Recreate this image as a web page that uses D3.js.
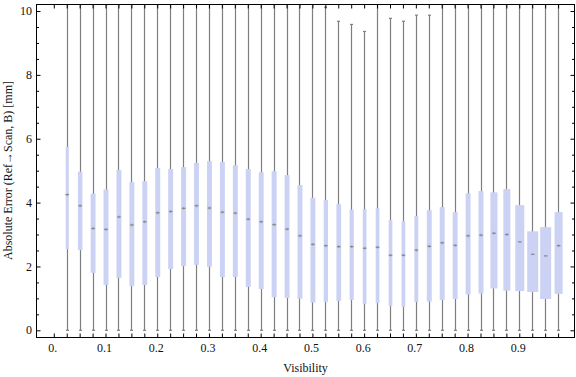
<!DOCTYPE html>
<html>
<head>
<meta charset="utf-8">
<script src="https://cdn.jsdelivr.net/npm/d3@7"></script>
<style>
  body { margin: 0; background: #fff; }
  text { font-family: "Liberation Serif", "Times New Roman", serif; fill: #111; }
</style>
</head>
<body>
<div id="chart"></div>
<script>
// visibility bins (box centres)
var visibility = [0.025, 0.05, 0.075, 0.1, 0.125, 0.15, 0.175, 0.2, 0.225, 0.25,
    0.275, 0.3, 0.325, 0.35, 0.375, 0.4, 0.425, 0.45, 0.475, 0.5,
    0.525, 0.55, 0.575, 0.6, 0.625, 0.65, 0.675, 0.7, 0.725, 0.75,
    0.775, 0.8, 0.825, 0.85, 0.875, 0.9, 0.925, 0.95, 0.975];
var minErr = [0, 0, 0, 0, 0, 0, 0, 0, 0, 0,
    0, 0, 0, 0, 0, 0, 0, 0, 0, 0,
    0, 0, 0, 0, 0, 0, 0, 0, 0, 0,
    0, 0, 0, 0, 0, 0, 0, 0, 0];
var q1 = [2.54, 2.51, 1.80, 1.42, 1.64, 1.39, 1.42, 1.67, 1.92, 2.01,
    2.05, 1.99, 1.67, 1.67, 1.36, 1.29, 1.04, 1.01, 0.99, 0.87,
    0.89, 0.92, 0.95, 0.82, 0.85, 0.76, 0.73, 0.89, 0.90, 0.95,
    0.98, 1.12, 1.15, 1.31, 1.24, 1.23, 1.20, 0.98, 1.14];
var median = [4.25, 3.90, 3.19, 3.16, 3.55, 3.30, 3.40, 3.68, 3.72, 3.82,
    3.90, 3.83, 3.70, 3.67, 3.48, 3.40, 3.31, 3.17, 2.96, 2.69,
    2.65, 2.62, 2.62, 2.57, 2.60, 2.35, 2.35, 2.51, 2.63, 2.74,
    2.66, 2.96, 2.98, 3.04, 3.00, 2.77, 2.38, 2.33, 2.65];
var q3 = [5.74, 4.97, 4.28, 4.41, 5.02, 4.64, 4.67, 5.08, 5.05, 5.11,
    5.24, 5.30, 5.27, 5.17, 5.05, 4.95, 4.98, 4.86, 4.55, 4.15,
    4.08, 3.95, 3.78, 3.79, 3.82, 3.45, 3.42, 3.58, 3.76, 3.86,
    3.70, 4.29, 4.36, 4.32, 4.42, 3.92, 3.10, 3.23, 3.70];
// whisker tops; 11 = runs off the top of the plot
var maxErr = [11, 11, 11, 11, 11, 11, 11, 11, 11, 11,
    11, 11, 11, 11, 11, 11, 11, 11, 11, 11,
    10.12, 9.68, 9.58, 9.36, 11, 9.77, 9.68, 9.87, 9.87, 11,
    11, 11, 11, 11, 11, 11, 11, 11, 11];
// relative box weight (box width)
var weight = [0.27, 0.41, 0.45, 0.45, 0.45, 0.45, 0.45, 0.45, 0.45, 0.45,
    0.45, 0.45, 0.45, 0.45, 0.45, 0.45, 0.45, 0.45, 0.45, 0.45,
    0.39, 0.43, 0.38, 0.34, 0.34, 0.34, 0.34, 0.36, 0.45, 0.45,
    0.45, 0.45, 0.45, 0.64, 0.64, 0.82, 1.0, 1.0, 0.73];

var xTickValues = [0, 0.1, 0.2, 0.3, 0.4, 0.5, 0.6, 0.7, 0.8, 0.9];
var xTickLabels = ["0.", "0.1", "0.2", "0.3", "0.4", "0.5", "0.6", "0.7", "0.8", "0.9"];
var yTickValues = [0, 2, 4, 6, 8, 10];

window.onload = function () {
    drawChart();
}

function drawChart() {
    var width = 576, height = 377;
    var left = 36, right = 575, top = 4, bottom = 337;

    var svg = d3.select("#chart").append("svg")
        .attr("width", width)
        .attr("height", height);

    var x = d3.scaleLinear().domain([-0.0344, 1.0077]).range([left, right]);
    var y = d3.scaleLinear().domain([-0.21, 10.22]).range([bottom, top]);
    var w = d3.scaleLinear().domain([0, 1]).range([0, 11]);

    var data = visibility.map(function (v, i) {
        return { v: v, lo: minErr[i], q1: q1[i], med: median[i], q3: q3[i], hi: maxErr[i], wt: weight[i] };
    });

    svg.append("clipPath").attr("id", "plotclip")
        .append("rect")
        .attr("x", left).attr("y", top)
        .attr("width", right - left).attr("height", bottom - top);

    var plot = svg.append("g").attr("clip-path", "url(#plotclip)");

    // whiskers
    plot.selectAll("line.whisker")
        .data(data)
        .enter().append("line")
        .attr("class", "whisker")
        .attr("x1", function (d) { return Math.round(x(d.v)) + 0.5; })
        .attr("x2", function (d) { return Math.round(x(d.v)) + 0.5; })
        .attr("y1", function (d) { return y(d.lo); })
        .attr("y2", function (d) { return y(d.hi); })
        .attr("stroke", "#7f7f7f")
        .attr("stroke-width", 1.2);

    // caps
    plot.selectAll("line.capLo")
        .data(data)
        .enter().append("line")
        .attr("x1", function (d) { return Math.round(x(d.v)) - 1; })
        .attr("x2", function (d) { return Math.round(x(d.v)) + 2; })
        .attr("y1", function (d) { return y(d.lo); })
        .attr("y2", function (d) { return y(d.lo); })
        .attr("stroke", "#7f7f7f")
        .attr("stroke-width", 1.2);

    plot.selectAll("line.capHi")
        .data(data.filter(function (d) { return d.hi < 10.22; }))
        .enter().append("line")
        .attr("x1", function (d) { return Math.round(x(d.v)) - 1; })
        .attr("x2", function (d) { return Math.round(x(d.v)) + 2; })
        .attr("y1", function (d) { return y(d.hi); })
        .attr("y2", function (d) { return y(d.hi); })
        .attr("stroke", "#7f7f7f")
        .attr("stroke-width", 1.2);

    // boxes
    plot.selectAll("rect.box")
        .data(data)
        .enter().append("rect")
        .attr("class", "box")
        .attr("x", function (d) { return x(d.v) + 0.5 - w(d.wt) / 2; })
        .attr("width", function (d) { return w(d.wt); })
        .attr("y", function (d) { return y(d.q3); })
        .attr("height", function (d) { return y(d.q1) - y(d.q3); })
        .attr("fill", "#cbd2f4");

    // median marks
    plot.selectAll("line.med")
        .data(data)
        .enter().append("line")
        .attr("x1", function (d) { return x(d.v) + 0.5 - 1.8; })
        .attr("x2", function (d) { return x(d.v) + 0.5 + 1.8; })
        .attr("y1", function (d) { return y(d.med); })
        .attr("y2", function (d) { return y(d.med); })
        .attr("stroke", "#8a8a8a")
        .attr("stroke-width", 1.3);

    plot.selectAll("line.medv")
        .data(data.filter(function (d) { return w(d.wt) < 8.5; }))
        .enter().append("line")
        .attr("x1", function (d) { return x(d.v) + 0.5; })
        .attr("x2", function (d) { return x(d.v) + 0.5; })
        .attr("y1", function (d) { return y(d.med) - 1.5; })
        .attr("y2", function (d) { return y(d.med) + 1.5; })
        .attr("stroke", "#8a8a8a")
        .attr("stroke-opacity", 0.6)
        .attr("stroke-width", 1);

    // frame axes
    var minorTicks = d3.range(0, 10.01, 0.5).filter(function (t) { return t % 2 !== 0; });
    var binTicks = [0].concat(visibility);

    svg.append("g")
        .attr("transform", "translate(0," + (bottom + 0.5) + ")")
        .call(d3.axisBottom(x).tickValues(binTicks).tickSize(-4).tickFormat(""))
        .call(function (g) { g.select(".domain").remove(); });

    svg.append("g")
        .attr("transform", "translate(0," + (top + 0.5) + ")")
        .call(d3.axisTop(x).tickValues(binTicks).tickSize(-4).tickFormat(""))
        .call(function (g) { g.select(".domain").remove(); });

    var xLab = svg.append("g").selectAll("text")
        .data(xTickValues)
        .enter().append("text")
        .attr("x", function (d) { return x(d) - 1; })
        .attr("y", 352)
        .attr("text-anchor", "middle")
        .attr("font-size", "12px")
        .text(function (d, i) { return xTickLabels[i]; });

    svg.append("g")
        .attr("transform", "translate(" + (left + 0.5) + ",0)")
        .call(d3.axisLeft(y).tickValues(yTickValues).tickSize(-4).tickFormat(""))
        .call(function (g) { g.select(".domain").remove(); });
    svg.append("g")
        .attr("transform", "translate(" + (left + 0.5) + ",0)")
        .call(d3.axisLeft(y).tickValues(minorTicks).tickSize(-2.5).tickFormat(""))
        .call(function (g) { g.select(".domain").remove(); });
    svg.append("g")
        .attr("transform", "translate(" + (right - 0.5) + ",0)")
        .call(d3.axisRight(y).tickValues(yTickValues).tickSize(-4).tickFormat(""))
        .call(function (g) { g.select(".domain").remove(); });
    svg.append("g")
        .attr("transform", "translate(" + (right - 0.5) + ",0)")
        .call(d3.axisRight(y).tickValues(minorTicks).tickSize(-2.5).tickFormat(""))
        .call(function (g) { g.select(".domain").remove(); });

    svg.append("g").selectAll("text")
        .data(yTickValues)
        .enter().append("text")
        .attr("x", 32)
        .attr("y", function (d) { return y(d); })
        .attr("dy", "0.35em")
        .attr("text-anchor", "end")
        .attr("font-size", "12px")
        .text(function (d) { return d; });

    svg.append("rect")
        .attr("x", left + 0.5).attr("y", top + 0.5)
        .attr("width", right - left - 1).attr("height", bottom - top)
        .attr("fill", "none")
        .attr("stroke", "#000")
        .attr("stroke-width", 1);

    svg.selectAll(".tick line").attr("stroke", "#000");

    // titles
    svg.append("text")
        .attr("x", (left + right) / 2)
        .attr("y", 372)
        .attr("text-anchor", "middle")
        .attr("font-size", "12px")
        .text("Visibility");

    svg.append("text")
        .attr("transform", "translate(12," + ((top + bottom) / 2) + ") rotate(-90)")
        .attr("text-anchor", "middle")
        .attr("font-size", "12px")
        .text("Absolute Error (Ref\u2192Scan, B) [mm]");
}
</script>
</body>
</html>
